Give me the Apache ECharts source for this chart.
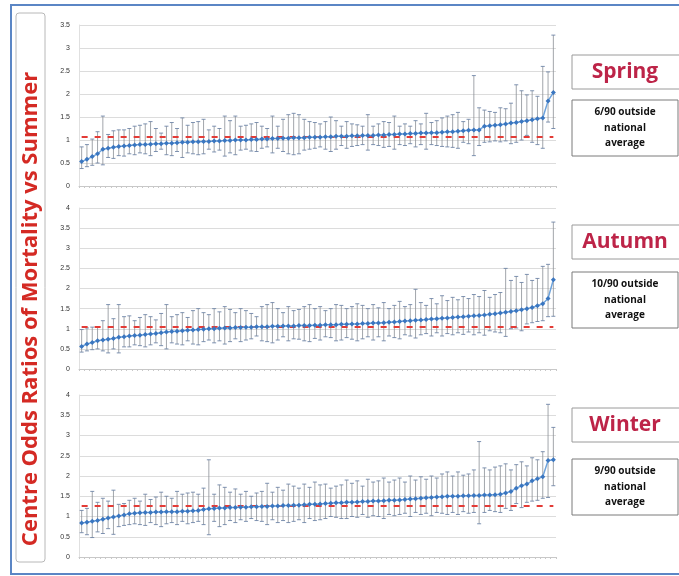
<!DOCTYPE html>
<html><head><meta charset="utf-8">
<script src="https://cdn.jsdelivr.net/npm/echarts@6/dist/echarts.min.js"></script>
<style>html,body{margin:0;padding:0;background:#fff}#c{width:679px;height:576px}</style>
</head><body><div id="c"></div>
<script>
// ---- data ----
const centres = Array.from({length: 90}, (_, i) => 'Centre ' + (i + 1));
const seasons = ['Spring', 'Autumn', 'Winter'];
const outsideNotes = ['6/90 outside\nnational\naverage', '10/90 outside\nnational\naverage', '9/90 outside\nnational\naverage'];
const nationalAvg = [1.08, 1.06, 1.27];
const yMax = [3.5, 4, 4];

const springOR = [0.53,0.58,0.64,0.7,0.8,0.82,0.84,0.86,0.87,0.88,
 0.89,0.9,0.9,0.91,0.92,0.92,0.93,0.93,0.94,0.95,
 0.95,0.96,0.96,0.97,0.97,0.98,0.98,0.99,0.99,1.0,
 1.0,1.0,1.01,1.01,1.02,1.02,1.03,1.03,1.04,1.04,
 1.05,1.05,1.05,1.06,1.06,1.06,1.07,1.07,1.08,1.08,
 1.08,1.09,1.09,1.1,1.1,1.1,1.11,1.11,1.12,1.12,
 1.13,1.13,1.14,1.14,1.15,1.15,1.16,1.16,1.17,1.18,
 1.18,1.19,1.2,1.21,1.22,1.22,1.3,1.31,1.32,1.33,
 1.35,1.37,1.38,1.4,1.42,1.44,1.46,1.48,1.85,2.03];
const springUpper = [0.85,0.9,1.02,1.18,1.52,1.12,1.2,1.22,1.22,1.25,
 1.3,1.32,1.35,1.4,1.25,1.15,1.3,1.38,1.25,1.48,
 1.32,1.38,1.4,1.45,1.22,1.3,1.25,1.52,1.42,1.52,
 1.3,1.32,1.35,1.38,1.3,1.25,1.52,1.3,1.45,1.55,
 1.58,1.55,1.45,1.4,1.38,1.35,1.4,1.5,1.42,1.3,
 1.4,1.35,1.33,1.3,1.55,1.3,1.35,1.4,1.38,1.52,
 1.3,1.35,1.3,1.42,1.35,1.58,1.38,1.42,1.48,1.52,
 1.55,1.6,1.4,1.45,2.4,1.7,1.65,1.62,1.6,1.7,
 1.68,1.8,2.2,2.07,1.98,2.07,1.95,2.6,2.48,3.28];
const springLower = [0.38,0.42,0.45,0.5,0.46,0.62,0.6,0.66,0.65,0.7,
 0.68,0.72,0.7,0.66,0.75,0.8,0.68,0.66,0.75,0.62,
 0.72,0.7,0.68,0.7,0.8,0.74,0.78,0.65,0.72,0.68,
 0.78,0.8,0.76,0.75,0.82,0.85,0.72,0.82,0.75,0.7,
 0.68,0.7,0.78,0.8,0.82,0.85,0.8,0.75,0.8,0.88,
 0.82,0.86,0.88,0.9,0.78,0.9,0.88,0.84,0.86,0.8,
 0.9,0.88,0.92,0.85,0.9,0.8,0.9,0.88,0.86,0.85,
 0.84,0.82,0.95,0.92,0.66,0.88,0.95,0.96,0.98,0.96,
 0.98,0.92,0.95,1.0,1.1,0.95,0.9,0.82,1.39,1.25];

const autumnOR = [0.56,0.62,0.66,0.7,0.72,0.74,0.76,0.79,0.8,0.82,
 0.83,0.84,0.86,0.87,0.88,0.9,0.92,0.93,0.94,0.95,
 0.96,0.97,0.98,0.99,1.0,1.0,1.01,1.02,1.02,1.03,
 1.03,1.04,1.04,1.05,1.05,1.05,1.06,1.06,1.07,1.07,
 1.07,1.08,1.08,1.08,1.09,1.09,1.1,1.1,1.1,1.11,
 1.11,1.12,1.12,1.13,1.13,1.14,1.14,1.15,1.16,1.17,
 1.18,1.19,1.2,1.21,1.22,1.23,1.24,1.25,1.26,1.27,
 1.28,1.29,1.3,1.31,1.32,1.33,1.34,1.36,1.37,1.39,
 1.41,1.43,1.45,1.47,1.5,1.53,1.57,1.62,1.75,2.22];
const autumnUpper = [0.98,1.02,1.04,1.05,1.2,1.6,1.25,1.6,1.3,1.32,
 1.2,1.28,1.35,1.3,1.22,1.38,1.6,1.3,1.35,1.4,
 1.28,1.45,1.5,1.4,1.35,1.5,1.42,1.55,1.48,1.4,
 1.5,1.45,1.38,1.3,1.55,1.6,1.65,1.5,1.4,1.55,
 1.45,1.48,1.55,1.6,1.5,1.55,1.45,1.5,1.6,1.58,
 1.5,1.55,1.62,1.58,1.5,1.6,1.52,1.65,1.5,1.58,
 1.68,1.55,1.6,1.98,1.65,1.58,1.75,1.62,1.82,1.7,
 1.78,1.72,1.8,1.75,1.85,1.8,1.95,1.78,1.85,1.9,
 2.5,2.2,2.3,2.15,2.35,2.2,2.25,2.55,2.6,3.65];
const autumnLower = [0.42,0.45,0.48,0.5,0.45,0.4,0.5,0.4,0.55,0.55,
 0.6,0.58,0.55,0.6,0.65,0.58,0.5,0.65,0.62,0.6,
 0.7,0.62,0.6,0.68,0.72,0.65,0.7,0.62,0.68,0.75,
 0.68,0.72,0.75,0.82,0.7,0.68,0.65,0.72,0.8,0.7,
 0.75,0.74,0.7,0.68,0.76,0.72,0.8,0.78,0.7,0.72,
 0.78,0.74,0.7,0.75,0.8,0.72,0.8,0.7,0.82,0.78,
 0.75,0.85,0.82,0.77,0.85,0.88,0.82,0.9,0.82,0.88,
 0.85,0.9,0.86,0.92,0.85,0.9,0.84,0.95,0.92,0.9,
 0.81,1.0,1.02,0.95,1.12,1.15,1.18,1.2,1.3,1.31];

const winterOR = [0.84,0.86,0.88,0.9,0.93,0.96,0.99,1.01,1.04,1.07,
 1.08,1.09,1.1,1.1,1.11,1.11,1.12,1.12,1.12,1.13,
 1.13,1.14,1.15,1.17,1.19,1.2,1.21,1.21,1.22,1.22,
 1.23,1.23,1.24,1.24,1.25,1.25,1.26,1.26,1.27,1.27,
 1.28,1.28,1.29,1.3,1.3,1.31,1.32,1.33,1.34,1.34,
 1.35,1.35,1.36,1.37,1.37,1.38,1.38,1.39,1.4,1.4,
 1.41,1.42,1.43,1.44,1.45,1.46,1.47,1.48,1.49,1.5,
 1.5,1.5,1.51,1.51,1.52,1.52,1.53,1.53,1.54,1.55,
 1.58,1.62,1.7,1.76,1.8,1.88,1.93,1.98,2.38,2.4];
const winterUpper = [1.15,1.2,1.62,1.35,1.45,1.38,1.65,1.3,1.32,1.4,
 1.45,1.38,1.55,1.42,1.48,1.6,1.5,1.45,1.62,1.55,
 1.58,1.6,1.55,1.7,2.4,1.55,1.78,1.72,1.6,1.68,
 1.55,1.62,1.5,1.58,1.62,1.82,1.6,1.72,1.65,1.8,
 1.75,1.7,1.8,1.72,1.85,1.78,1.8,1.7,1.75,1.78,
 1.9,1.82,1.88,1.75,1.92,1.85,1.88,1.95,1.85,1.9,
 1.95,1.85,2.0,1.9,1.98,1.92,2.0,1.95,2.05,2.1,
 2.0,2.1,2.02,2.05,2.15,2.85,2.2,2.15,2.22,2.25,
 2.3,2.15,2.28,2.35,2.25,2.45,2.4,2.6,3.77,3.2];
const winterLower = [0.6,0.55,0.48,0.62,0.58,0.7,0.56,0.75,0.78,0.8,
 0.82,0.8,0.78,0.85,0.8,0.75,0.82,0.85,0.8,0.88,
 0.82,0.85,0.88,0.8,0.55,0.88,0.75,0.8,0.9,0.85,
 0.92,0.88,0.95,0.9,0.88,0.8,0.92,0.85,0.9,0.85,
 0.88,0.92,0.85,0.95,0.9,0.92,0.95,1.0,0.98,0.95,
 0.95,1.0,0.98,1.05,0.98,1.02,1.0,0.95,1.05,1.02,
 1.05,1.08,1.0,1.1,1.05,1.08,1.02,1.1,1.08,1.05,
 1.1,1.05,1.12,1.08,1.1,0.82,1.1,1.15,1.12,1.1,
 1.2,1.15,1.32,1.22,1.35,1.38,1.4,1.45,1.47,1.76];

const panelOR = [springOR, autumnOR, winterOR];
const panelLower = [springLower, autumnLower, winterLower];
const panelUpper = [springUpper, autumnUpper, winterUpper];

// ---- layout ----
const gridTops = [25, 208, 395];
const gridHeights = [161, 161, 162];
const nameBoxY = [55, 225, 408];
const noteBoxY = [100, 272, 459];

const chart = echarts.init(document.getElementById('c'), null, {renderer: 'canvas'});

const grids = [], xAxes = [], yAxes = [], series = [], graphics = [];

graphics.push({type: 'rect', shape: {x: 11, y: 5, width: 700, height: 569}, style: {fill: 'none', stroke: '#5b86c5', lineWidth: 2}, z: 0});
graphics.push({type: 'rect', shape: {x: 16, y: 13, width: 29, height: 549, r: 3}, style: {fill: '#fff', stroke: '#b8b8b8', lineWidth: 1}, z: 1});
graphics.push({type: 'text', x: 31, y: 309, rotation: Math.PI / 2,
  style: {text: 'Centre Odds Ratios of Mortality vs Summer', fill: '#d42a24', font: 'bold 22px "Open Sans", sans-serif', textAlign: 'center', textVerticalAlign: 'middle'}, z: 2});

function errRender(params, api) {
  const i = api.value(0);
  const lo = api.coord([i, api.value(1)]);
  const hi = api.coord([i, api.value(2)]);
  const w = 2;
  const st = {stroke: '#8a8f96', lineWidth: 0.8};
  const cap = {stroke: '#6f86a8', lineWidth: 0.9};
  return {type: 'group', children: [
    {type: 'line', shape: {x1: lo[0], y1: lo[1], x2: hi[0], y2: hi[1]}, style: st},
    {type: 'line', shape: {x1: lo[0] - w, y1: lo[1], x2: lo[0] + w, y2: lo[1]}, style: cap},
    {type: 'line', shape: {x1: hi[0] - w, y1: hi[1], x2: hi[0] + w, y2: hi[1]}, style: cap}
  ]};
}

for (let p = 0; p < 3; p++) {
  grids.push({left: 79, width: 477, top: gridTops[p], height: gridHeights[p]});
  xAxes.push({type: 'category', gridIndex: p, data: centres, boundaryGap: true,
    axisLine: {lineStyle: {color: '#c8c8c8', width: 1}},
    axisTick: {show: true, interval: 0, length: 2, lineStyle: {color: '#c8c8c8'}},
    axisLabel: {show: false}, splitLine: {show: false}});
  yAxes.push({type: 'value', gridIndex: p, min: 0, max: yMax[p], interval: 0.5,
    axisLine: {show: true, lineStyle: {color: '#e0e0e0'}}, axisTick: {show: false},
    axisLabel: {fontSize: 7, color: '#333', margin: 9, fontFamily: 'Liberation Sans'},
    splitLine: {lineStyle: {color: '#dcdcdc', width: 1}}});
  series.push({type: 'custom', xAxisIndex: p, yAxisIndex: p, renderItem: errRender,
    encode: {x: 0, y: [1, 2]}, silent: true, z: 2,
    data: panelLower[p].map((l, i) => [i, l, panelUpper[p][i]])});
  series.push({type: 'line', xAxisIndex: p, yAxisIndex: p, data: panelOR[p], z: 4,
    symbol: 'diamond', symbolSize: 5, showSymbol: true, showAllSymbol: true,
    itemStyle: {color: '#3a76c0'}, lineStyle: {color: '#6ea3dc', width: 1.5},
    markLine: {silent: true, symbol: 'none', label: {show: false}, z: 3,
      lineStyle: {color: '#e33b36', type: [6, 7], width: 2},
      data: [[{coord: [0, nationalAvg[p]]}, {coord: [89, nationalAvg[p]]}]]}});

  graphics.push({type: 'rect', shape: {x: 572, y: nameBoxY[p], width: 120, height: 34}, style: {fill: '#fff', stroke: '#9a9a9a', lineWidth: 1}, z: 1});
  graphics.push({type: 'text', x: 625, y: nameBoxY[p] + 17,
    style: {text: seasons[p], fill: '#bd2448', font: 'bold 21px "Open Sans", sans-serif', textAlign: 'center', textVerticalAlign: 'middle'}, z: 2});
  graphics.push({type: 'rect', shape: {x: 572, y: noteBoxY[p], width: 106, height: 56}, style: {fill: '#fff', stroke: '#7a7a7a', lineWidth: 1}, z: 1});
  graphics.push({type: 'text', x: 625, y: noteBoxY[p] + 28,
    style: {text: outsideNotes[p], fill: '#111', font: 'bold 10px "Open Sans", sans-serif', lineHeight: 15.5, textAlign: 'center', textVerticalAlign: 'middle'}, z: 2});
}

chart.setOption({animation: false, grid: grids, xAxis: xAxes, yAxis: yAxes, series: series, graphic: graphics});
</script></body></html>
